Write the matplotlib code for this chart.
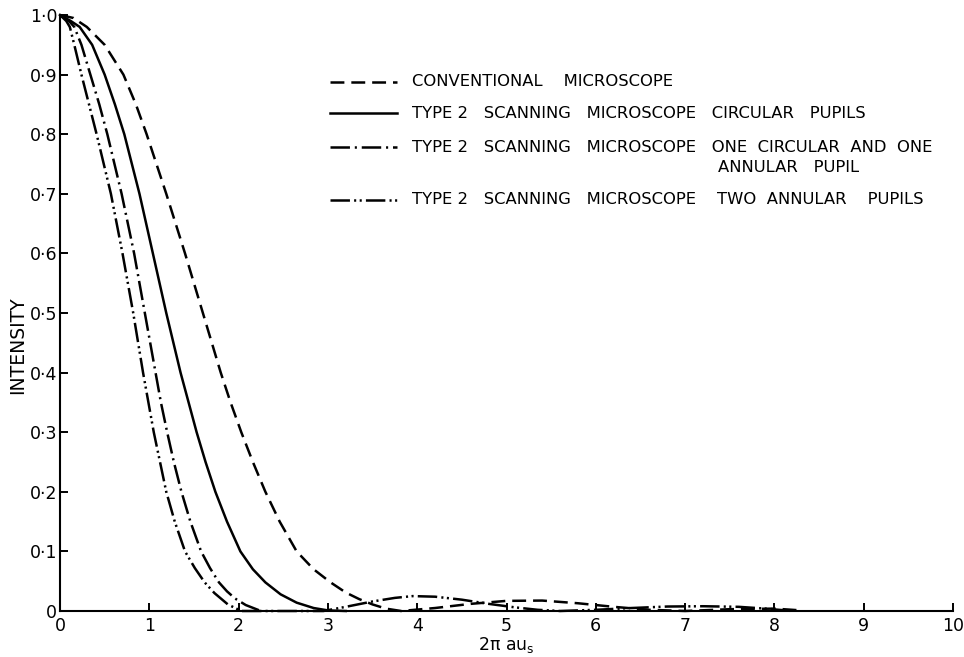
import matplotlib
matplotlib.use('Agg')
import matplotlib.pyplot as plt

# curve readings (x = 2*pi*a*u_s, y = intensity)
conv_x = [0, 0.15, 0.3, 0.5, 0.71, 0.85, 0.97, 1.08, 1.19, 1.295, 1.40, 1.50, 1.60, 1.70, 1.80, 1.91, 2.03, 2.16, 2.30, 2.46, 2.65,
          2.84, 3.03, 3.2, 3.35, 3.5, 3.65, 3.82,
          4.2, 4.6, 5.0, 5.4, 5.8, 6.2, 6.6, 7.0, 7.5, 8.0, 8.3]
conv_y = [1.0, 0.995, 0.98, 0.95, 0.9, 0.85, 0.8, 0.75, 0.7, 0.65, 0.6, 0.55, 0.5, 0.45, 0.4, 0.35, 0.3, 0.25, 0.2, 0.15, 0.1,
          0.07, 0.048, 0.031, 0.02, 0.011, 0.004, 0.0,
          0.005, 0.012, 0.017, 0.0175, 0.013, 0.007, 0.002, 0.0, 0.003, 0.004, 0.001]

circ_x = [0, 0.12, 0.22, 0.36, 0.50, 0.615, 0.72, 0.805, 0.89, 0.965, 1.04, 1.115, 1.19, 1.27, 1.35, 1.44, 1.53, 1.63, 1.74, 1.87, 2.02,
          2.16, 2.3, 2.47, 2.65, 2.84, 3.0, 3.2]
circ_y = [1.0, 0.99, 0.98, 0.95, 0.9, 0.85, 0.8, 0.75, 0.7, 0.65, 0.6, 0.55, 0.5, 0.45, 0.4, 0.35, 0.3, 0.25, 0.2, 0.15, 0.1,
          0.07, 0.048, 0.028, 0.014, 0.005, 0.001, 0.0]

one_ann_x = [0, 0.1, 0.16, 0.24, 0.34, 0.44, 0.53, 0.61, 0.69, 0.76, 0.83, 0.89, 0.95, 1.01, 1.07, 1.13, 1.20, 1.275, 1.36, 1.46, 1.58,
             1.68, 1.78, 1.87, 1.96, 2.08, 2.25]
one_ann_y = [1.0, 0.99, 0.98, 0.95, 0.9, 0.85, 0.8, 0.75, 0.7, 0.65, 0.6, 0.55, 0.5, 0.45, 0.4, 0.35, 0.3, 0.25, 0.2, 0.15, 0.1,
             0.072, 0.048, 0.033, 0.021, 0.01, 0.0]

two_ann_x = [0, 0.07, 0.11, 0.16, 0.24, 0.325, 0.41, 0.49, 0.57, 0.635, 0.70, 0.76, 0.82, 0.875, 0.93, 0.99, 1.05, 1.12, 1.19, 1.285, 1.40,
             1.51, 1.62, 1.73, 1.88, 2.03,
             2.5, 2.95, 3.2, 3.5, 3.75, 3.95, 4.2, 4.5, 4.8, 5.1, 5.35, 5.6, 6.0, 6.4, 6.8, 7.2, 7.6, 7.9, 8.2]
two_ann_y = [1.0, 0.99, 0.98, 0.95, 0.9, 0.85, 0.8, 0.75, 0.7, 0.65, 0.6, 0.55, 0.5, 0.45, 0.4, 0.35, 0.3, 0.25, 0.2, 0.15, 0.1,
             0.072, 0.048, 0.03, 0.011, 0.0,
             0.0, 0.0, 0.007, 0.016, 0.022, 0.025, 0.024, 0.019, 0.012, 0.006, 0.002, 0.0, 0.002, 0.005, 0.0075, 0.008, 0.007, 0.004, 0.0]

legend_labels = ['CONVENTIONAL    MICROSCOPE',
                 'TYPE 2   SCANNING   MICROSCOPE   CIRCULAR   PUPILS',
                 'TYPE 2   SCANNING   MICROSCOPE   ONE  CIRCULAR  AND  ONE',
                 'TYPE 2   SCANNING   MICROSCOPE    TWO  ANNULAR    PUPILS']
legend_extra = 'ANNULAR   PUPIL'
x_ticks = [0, 1, 2, 3, 4, 5, 6, 7, 8, 9, 10]
y_ticks = [0, 0.1, 0.2, 0.3, 0.4, 0.5, 0.6, 0.7, 0.8, 0.9, 1.0]
y_ticklabels = ['0', '0·1', '0·2', '0·3', '0·4', '0·5', '0·6', '0·7', '0·8', '0·9', '1·0']

plt.rcParams['font.family'] = ['DejaVu Sans']
plt.rcParams['lines.scale_dashes'] = False

styles = [(0, (10, 5)),
          '-',
          (0, (14, 3.5, 1.5, 3.5)),
          (0, (14, 3, 1.5, 2.5, 1.5, 3))]

fig = plt.figure(figsize=(9.64, 6.57), dpi=100)
ax = fig.add_axes([60/964, 46/657, 893/964, 596/657])

lw = 1.8
series = [(conv_x, conv_y), (circ_x, circ_y), (one_ann_x, one_ann_y), (two_ann_x, two_ann_y)]
for (xs, ys), ls in zip(series, styles):
    ax.plot(xs, ys, color='black', lw=lw, linestyle=ls, clip_on=False)

ax.set_xlim(0, 10)
ax.set_ylim(0, 1.0)
ax.spines['top'].set_visible(False)
ax.spines['right'].set_visible(False)
ax.spines['left'].set_linewidth(1.5)
ax.spines['bottom'].set_linewidth(1.5)
ax.set_xticks(x_ticks)
ax.set_xticklabels([str(t) for t in x_ticks])
ax.set_yticks(y_ticks)
ax.set_yticklabels(y_ticklabels)
ax.tick_params(direction='in', length=6, width=1.4, labelsize=12.5, pad=4)
ax.tick_params(axis='y', pad=2)

# legend drawn by hand, positions in axes fraction
def fx(px):
    return (px - 60) / 893

def fy(py):
    return (611 - py) / 596

ax.set_xlabel('2π au$_{\\mathregular{s}}$', fontsize=12.5, labelpad=0)
ax.set_ylabel('INTENSITY', fontsize=13.5)
ax.yaxis.set_label_coords(fx(27), fy(345))

rows = [82, 113, 147, 200]
for ls, lab, py in zip(styles, legend_labels, rows):
    ax.plot([fx(330), fx(397)], [fy(py), fy(py)], transform=ax.transAxes,
            color='black', lw=lw, linestyle=ls, clip_on=False)
    ax.text(fx(412), fy(py), lab, transform=ax.transAxes, fontsize=11.8,
            va='center', ha='left')
ax.text(fx(718), fy(168), legend_extra, transform=ax.transAxes, fontsize=11.8,
        va='center', ha='left')

fig.savefig('out.png', dpi=100)
